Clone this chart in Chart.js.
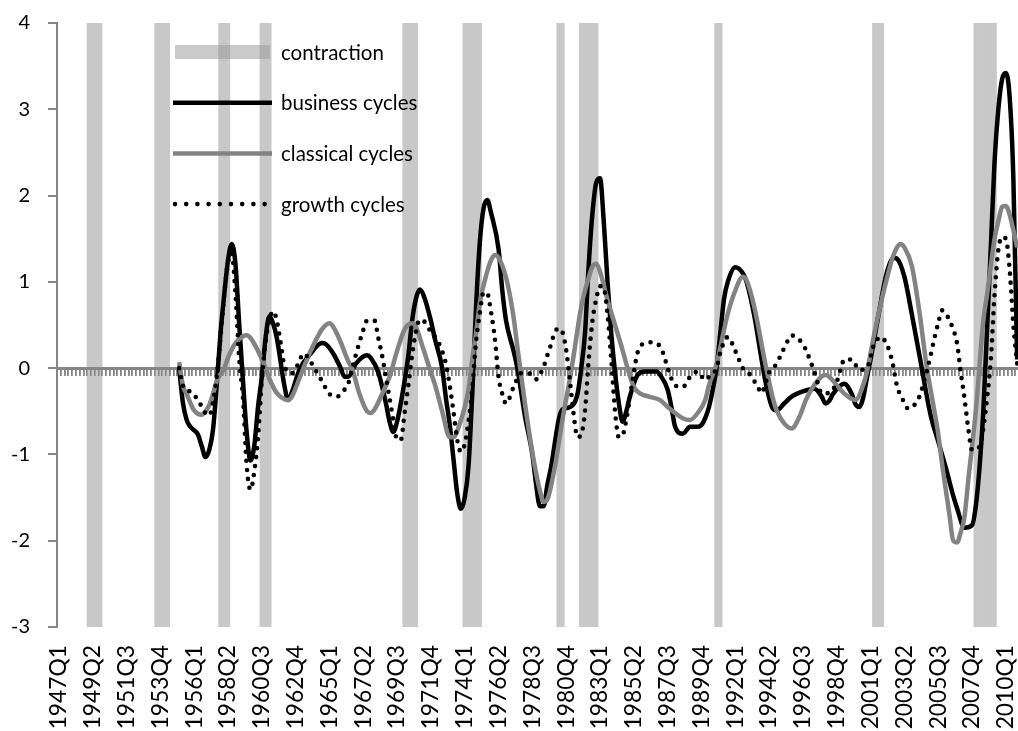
<!DOCTYPE html>
<html>
<head>
<meta charset="utf-8">
<script src="https://cdn.jsdelivr.net/npm/chart.js@4/dist/chart.umd.min.js"></script>
<style>
  html, body { margin: 0; padding: 0; background: #fff; overflow: hidden; }
  #wrap { position: relative; width: 1019px; height: 731px; }
</style>
</head>
<body>
<div id="wrap"><canvas id="cycles"></canvas></div>
<script>
// Quarterly category axis, 1947Q1 .. 2010Q4
const firstYear = 1947;
const lastYear = 2010;
const quarters = [];
for (let y = firstYear; y <= lastYear; y++) {
  for (let q = 1; q <= 4; q++) quarters.push(y + 'Q' + q);
}
// every 9th quarter carries a tick label
const labelStep = 9;

// NBER contraction periods (first and last quarter shaded)
const contractions = [
  ['1949Q1', '1949Q4'], ['1953Q3', '1954Q2'], ['1957Q4', '1958Q2'],
  ['1960Q3', '1961Q1'], ['1970Q1', '1970Q4'], ['1974Q1', '1975Q1'],
  ['1980Q2', '1980Q3'], ['1981Q4', '1982Q4'], ['1990Q4', '1991Q1'],
  ['2001Q2', '2001Q4'], ['2008Q1', '2009Q2']
];

// Business cycles
const businessCycles = [
  ['1955Q1',0.0],['1955Q2',-0.4],['1955Q3',-0.6],['1955Q4',-0.68],['1956Q2',-0.77],['1956Q3',-0.9],
  ['1956Q4',-1.03],['1957Q1',-0.95],['1957Q2',-0.72],['1957Q3',-0.2],['1957Q4',0.4],['1958Q1',0.85],
  ['1958Q2',1.25],['1958Q3',1.44],['1958Q4',1.2],['1959Q1',0.5],['1959Q2',-0.15],['1959Q3',-0.76],
  ['1959Q4',-1.07],['1960Q1',-0.9],['1960Q2',-0.45],['1960Q3',-0.1],['1960Q4',0.35],['1961Q1',0.6],
  ['1961Q2',0.52],['1961Q3',0.35],['1962Q1',-0.2],['1962Q2',-0.37],['1962Q3',-0.28],['1963Q1',-0.02],
  ['1963Q4',0.17],['1964Q3',0.29],['1964Q4',0.28],['1965Q2',0.17],['1965Q4',0.0],['1966Q1',-0.1],
  ['1966Q2',-0.1],['1966Q4',0.05],['1967Q3',0.15],['1967Q4',0.12],['1968Q2',-0.05],['1968Q4',-0.4],
  ['1969Q1',-0.62],['1969Q2',-0.74],['1969Q3',-0.62],['1970Q1',-0.15],['1970Q2',0.15],['1970Q3',0.55],
  ['1970Q4',0.8],['1971Q1',0.91],['1971Q2',0.85],['1971Q4',0.55],['1972Q1',0.35],['1972Q3',0.0],
  ['1972Q4',-0.35],['1973Q1',-0.65],['1973Q2',-1.05],['1973Q3',-1.45],['1973Q4',-1.63],['1974Q1',-1.5],
  ['1974Q2',-1.14],['1974Q3',-0.3],['1974Q4',0.7],['1975Q1',1.45],['1975Q2',1.85],['1975Q3',1.95],
  ['1975Q4',1.8],['1976Q2',1.38],['1976Q3',0.9],['1976Q4',0.55],['1977Q2',0.2],['1977Q3',0.0],
  ['1978Q1',-0.55],['1978Q3',-1.0],['1978Q4',-1.35],['1979Q1',-1.6],['1979Q2',-1.6],['1979Q3',-1.35],
  ['1979Q4',-1.14],['1980Q2',-0.6],['1980Q3',-0.48],['1981Q1',-0.45],['1981Q3',-0.3],['1981Q4',0.0],
  ['1982Q1',0.4],['1982Q2',1.2],['1982Q3',1.8],['1982Q4',2.15],['1983Q1',2.2],['1983Q2',1.7],
  ['1983Q3',1.0],['1983Q4',0.4],['1984Q1',-0.05],['1984Q2',-0.4],['1984Q3',-0.62],['1984Q4',-0.5],
  ['1985Q1',-0.32],['1985Q3',-0.08],['1986Q1',-0.04],['1986Q4',-0.04],['1987Q1',-0.08],['1987Q3',-0.25],
  ['1987Q4',-0.45],['1988Q1',-0.68],['1988Q3',-0.76],['1989Q1',-0.68],['1989Q3',-0.68],['1989Q4',-0.66],
  ['1990Q1',-0.58],['1990Q2',-0.45],['1990Q3',-0.25],['1990Q4',0.0],['1991Q1',0.4],['1991Q2',0.8],
  ['1991Q3',1.0],['1992Q1',1.17],['1992Q3',1.1],['1992Q4',1.0],['1993Q2',0.62],['1993Q4',0.1],
  ['1994Q1',-0.15],['1994Q3',-0.47],['1994Q4',-0.49],['1995Q2',-0.41],['1995Q4',-0.33],['1996Q3',-0.27],
  ['1997Q2',-0.24],['1997Q4',-0.33],['1998Q1',-0.41],['1998Q2',-0.38],['1998Q3',-0.3],['1999Q1',-0.2],
  ['1999Q2',-0.18],['1999Q4',-0.3],['2000Q1',-0.42],['2000Q2',-0.45],['2000Q3',-0.35],['2000Q4',-0.12],
  ['2001Q1',0.1],['2001Q3',0.59],['2002Q1',1.05],['2002Q2',1.2],['2002Q3',1.28],['2002Q4',1.27],
  ['2003Q2',1.06],['2003Q4',0.62],['2004Q2',0.15],['2005Q1',-0.55],['2005Q3',-0.85],['2006Q1',-1.15],
  ['2006Q3',-1.48],['2006Q4',-1.62],['2007Q2',-1.85],['2007Q4',-1.82],['2008Q1',-1.6],['2008Q2',-1.15],
  ['2008Q3',-0.5],['2008Q4',0.45],['2009Q1',1.4],['2009Q2',2.4],['2009Q3',3.0],['2009Q4',3.35],
  ['2010Q1',3.42],['2010Q2',3.15],['2010Q3',2.2],['2010Q4',0.1]
];

// Classical cycles
const classicalCycles = [
  ['1955Q1',0.07],['1955Q2',-0.2],['1955Q3',-0.3],['1956Q1',-0.49],['1956Q3',-0.54],['1956Q4',-0.5],
  ['1957Q1',-0.43],['1957Q2',-0.3],['1957Q3',-0.15],['1958Q1',0.0],['1958Q2',0.12],['1958Q4',0.29],
  ['1959Q2',0.37],['1959Q3',0.38],['1959Q4',0.35],['1960Q2',0.2],['1960Q4',0.0],['1961Q1',-0.12],
  ['1961Q3',-0.29],['1962Q1',-0.36],['1962Q2',-0.37],['1962Q3',-0.33],['1963Q1',-0.12],['1963Q3',0.1],
  ['1964Q1',0.29],['1964Q3',0.45],['1965Q1',0.52],['1965Q2',0.48],['1965Q4',0.3],['1966Q2',0.08],
  ['1966Q3',0.0],['1967Q1',-0.3],['1967Q3',-0.5],['1967Q4',-0.52],['1968Q1',-0.48],['1968Q3',-0.3],
  ['1969Q1',-0.1],['1969Q3',0.2],['1970Q1',0.45],['1970Q3',0.52],['1970Q4',0.48],['1971Q2',0.22],
  ['1971Q4',-0.05],['1972Q1',-0.18],['1972Q3',-0.5],['1973Q1',-0.8],['1973Q2',-0.8],['1973Q4',-0.6],
  ['1974Q1',-0.45],['1974Q2',-0.25],['1974Q3',0.1],['1974Q4',0.4],['1975Q1',0.75],['1975Q3',1.12],
  ['1975Q4',1.25],['1976Q1',1.31],['1976Q2',1.28],['1976Q4',1.05],['1977Q1',0.85],['1977Q2',0.59],
  ['1977Q3',0.25],['1978Q1',-0.4],['1978Q3',-0.98],['1979Q1',-1.42],['1979Q2',-1.55],['1979Q3',-1.52],
  ['1980Q1',-1.14],['1980Q3',-0.6],['1981Q1',-0.12],['1981Q2',0.15],['1981Q4',0.71],['1982Q2',1.05],
  ['1982Q3',1.18],['1982Q4',1.21],['1983Q1',1.12],['1983Q3',0.79],['1984Q1',0.5],['1984Q3',0.21],
  ['1984Q4',0.05],['1985Q2',-0.22],['1985Q4',-0.3],['1986Q2',-0.33],['1987Q1',-0.37],['1987Q3',-0.45],
  ['1988Q1',-0.52],['1988Q3',-0.58],['1989Q1',-0.6],['1989Q3',-0.52],['1990Q1',-0.37],['1990Q2',-0.2],
  ['1990Q4',0.05],['1991Q3',0.63],['1992Q1',0.9],['1992Q3',1.06],['1992Q4',1.02],['1993Q2',0.72],
  ['1994Q1',0.05],['1994Q3',-0.35],['1994Q4',-0.49],['1995Q2',-0.64],['1995Q4',-0.7],['1996Q2',-0.57],
  ['1996Q4',-0.35],['1997Q3',-0.14],['1998Q1',-0.08],['1998Q2',-0.1],['1999Q1',-0.25],['1999Q3',-0.33],
  ['2000Q1',-0.37],['2000Q3',-0.2],['2000Q4',-0.05],['2001Q2',0.4],['2001Q4',0.8],['2002Q2',1.15],
  ['2002Q3',1.3],['2003Q1',1.44],['2003Q2',1.4],['2003Q4',1.18],['2004Q2',0.65],['2004Q4',0.0],
  ['2005Q2',-0.5],['2005Q3',-0.76],['2005Q4',-1.1],['2006Q2',-1.7],['2006Q3',-2.0],['2006Q4',-2.02],
  ['2007Q1',-1.9],['2007Q2',-1.72],['2007Q3',-1.3],['2008Q1',-0.5],['2008Q3',0.55],['2008Q4',0.85],
  ['2009Q2',1.5],['2009Q3',1.7],['2009Q4',1.87],['2010Q1',1.88],['2010Q2',1.78],['2010Q3',1.6],
  ['2010Q4',1.4]
];

// Growth cycles
const growthCycles = [
  ['1955Q1',0.0],['1955Q2',-0.2],['1955Q3',-0.26],['1955Q4',-0.27],['1956Q2',-0.37],['1956Q4',-0.52],
  ['1957Q1',-0.55],['1957Q2',-0.4],['1957Q3',-0.1],['1957Q4',0.35],['1958Q1',0.85],['1958Q2',1.22],
  ['1958Q3',1.33],['1958Q4',0.85],['1959Q1',0.1],['1959Q2',-0.35],['1959Q3',-1.14],['1959Q4',-1.41],
  ['1960Q1',-1.2],['1960Q2',-0.8],['1960Q3',-0.15],['1960Q4',0.3],['1961Q1',0.55],['1961Q2',0.66],
  ['1961Q3',0.55],['1961Q4',0.3],['1962Q1',0.03],['1962Q3',-0.06],['1963Q1',0.08],['1963Q2',0.17],
  ['1963Q3',0.14],['1964Q1',0.0],['1964Q3',-0.15],['1965Q1',-0.3],['1965Q3',-0.33],['1966Q1',-0.25],
  ['1966Q2',-0.18],['1966Q4',0.15],['1967Q2',0.44],['1967Q3',0.55],['1968Q1',0.55],['1968Q2',0.35],
  ['1968Q3',0.15],['1968Q4',-0.1],['1969Q1',-0.35],['1969Q2',-0.6],['1969Q3',-0.83],['1969Q4',-0.83],
  ['1970Q1',-0.52],['1970Q2',-0.2],['1970Q3',0.15],['1970Q4',0.42],['1971Q1',0.56],['1971Q2',0.55],
  ['1971Q4',0.42],['1972Q2',0.3],['1972Q4',0.05],['1973Q1',-0.2],['1973Q2',-0.5],['1973Q3',-0.83],
  ['1973Q4',-0.97],['1974Q1',-0.88],['1974Q2',-0.62],['1974Q3',-0.25],['1974Q4',0.3],['1975Q1',0.63],
  ['1975Q2',0.88],['1975Q3',0.87],['1975Q4',0.65],['1976Q1',0.35],['1976Q2',-0.1],['1976Q3',-0.3],
  ['1976Q4',-0.41],['1977Q2',-0.22],['1977Q4',-0.06],['1978Q2',-0.06],['1978Q4',-0.13],['1979Q2',0.02],
  ['1979Q3',0.15],['1979Q4',0.28],['1980Q1',0.42],['1980Q2',0.46],['1980Q3',0.42],['1980Q4',0.21],
  ['1981Q1',-0.15],['1981Q2',-0.54],['1981Q3',-0.8],['1981Q4',-0.77],['1982Q1',-0.5],['1982Q2',0.1],
  ['1982Q3',0.55],['1982Q4',0.8],['1983Q1',0.95],['1983Q2',0.93],['1983Q3',0.62],['1983Q4',0.1],
  ['1984Q1',-0.5],['1984Q2',-0.8],['1984Q3',-0.78],['1984Q4',-0.6],['1985Q1',-0.33],['1985Q2',-0.05],
  ['1985Q3',0.18],['1986Q1',0.29],['1986Q3',0.3],['1987Q1',0.25],['1987Q2',0.15],['1987Q3',0.0],
  ['1987Q4',-0.12],['1988Q1',-0.2],['1988Q3',-0.22],['1989Q1',-0.1],['1989Q3',-0.04],['1990Q1',-0.14],
  ['1990Q2',-0.1],['1990Q4',0.0],['1991Q1',0.18],['1991Q3',0.36],['1992Q1',0.2],['1992Q3',0.0],
  ['1993Q1',-0.08],['1993Q3',-0.22],['1993Q4',-0.29],['1994Q1',-0.18],['1994Q2',-0.05],['1994Q4',0.05],
  ['1995Q1',0.14],['1995Q3',0.32],['1995Q4',0.38],['1996Q1',0.36],['1996Q3',0.28],['1996Q4',0.19],
  ['1997Q2',-0.04],['1997Q3',-0.18],['1997Q4',-0.29],['1998Q2',-0.29],['1998Q4',-0.16],['1999Q1',-0.02],
  ['1999Q2',0.1],['1999Q4',0.1],['2000Q2',-0.02],['2000Q4',0.0],['2001Q2',0.28],['2001Q4',0.36],
  ['2002Q1',0.3],['2002Q2',0.2],['2002Q3',0.03],['2002Q4',-0.2],['2003Q2',-0.4],['2003Q3',-0.47],
  ['2004Q1',-0.41],['2004Q2',-0.33],['2004Q4',-0.03],['2005Q1',0.15],['2005Q2',0.35],['2005Q3',0.52],
  ['2005Q4',0.67],['2006Q1',0.64],['2006Q2',0.55],['2006Q3',0.45],['2006Q4',0.29],['2007Q1',-0.05],
  ['2007Q2',-0.35],['2007Q3',-0.7],['2007Q4',-0.95],['2008Q2',-0.91],['2008Q3',-0.7],['2008Q4',-0.35],
  ['2009Q1',0.1],['2009Q2',0.85],['2009Q3',1.37],['2009Q4',1.52],['2010Q1',1.5],['2010Q2',1.15],
  ['2010Q3',0.5],['2010Q4',0.05]
];

// value axis range, also used as the extent of the contraction shading
const yMin = -3;
const yMax = 4;

const shaded = new Set();
contractions.forEach(([from, to]) => {
  for (let i = quarters.indexOf(from); i <= quarters.indexOf(to); i++) shaded.add(i);
});
const contractionData = quarters.map((q, i) => (shaded.has(i) ? [yMin, yMax] : null));
const toPoints = (rows) => rows.map(([q, v]) => ({ x: q, y: v }));

const FONT = 'Lato, "Open Sans", sans-serif';
const AXIS_GREY = '#868686';

// redraws the zero axis right after the shading so it sits between the bars and the lines
const zeroAxisOverShading = {
  id: 'zeroAxisOverShading',
  afterDatasetDraw(chart, args) {
    if (args.meta.type !== 'bar') return;
    const s = chart.scales.zero;
    s.drawGrid(chart.chartArea);
    s.drawBorder();
  }
};

// legend drawn inside the plot area, one row per dataset
const insetLegend = {
  id: 'insetLegend',
  afterDraw(chart) {
    const { ctx, chartArea } = chart;
    const x0 = chartArea.left + 116;
    const x1 = chartArea.left + 215;
    const textX = chartArea.left + 224;
    ctx.save();
    ctx.font = '20.5px ' + FONT;
    ctx.textBaseline = 'middle';
    ctx.textAlign = 'left';
    chart.data.datasets.forEach((ds, i) => {
      const y = chartArea.top + 29 + i * 50.7;
      const dotted = Array.isArray(ds.borderDash) && ds.borderDash.length > 0;
      if (ds.type === 'bar') {
        ctx.fillStyle = 'rgba(150,150,150,0.5)';
        ctx.fillRect(x0 + 2, y - 7, x1 - x0 - 4, 14);
      } else {
        ctx.beginPath();
        ctx.strokeStyle = ds.borderColor;
        ctx.lineWidth = ds.borderWidth;
        ctx.lineCap = dotted ? 'round' : 'butt';
        ctx.setLineDash(dotted ? [0, 11.2] : []);
        ctx.moveTo(dotted ? x0 + 2 : x0, y);
        ctx.lineTo(x1, y);
        ctx.stroke();
        ctx.setLineDash([]);
      }
      ctx.fillStyle = '#000';
      ctx.fillText(ds.label, textX, y + 1);
    });
    ctx.restore();
  }
};

new Chart(document.getElementById('cycles'), {
  type: 'bar',
  data: {
    labels: quarters,
    datasets: [
      {
        type: 'bar', label: 'contraction', data: contractionData,
        backgroundColor: '#c8c8c8', borderWidth: 0,
        barPercentage: 1, categoryPercentage: 1, order: 4
      },
      {
        type: 'line', label: 'business cycles', data: toPoints(businessCycles),
        borderColor: '#000', borderWidth: 4.5, pointRadius: 0,
        cubicInterpolationMode: 'monotone', borderJoinStyle: 'round', order: 3
      },
      {
        type: 'line', label: 'classical cycles', data: toPoints(classicalCycles),
        borderColor: '#838383', borderWidth: 4.5, pointRadius: 0,
        cubicInterpolationMode: 'monotone', borderJoinStyle: 'round', order: 2
      },
      {
        type: 'line', label: 'growth cycles', data: toPoints(growthCycles),
        borderColor: '#000', borderWidth: 4.6, pointRadius: 0,
        borderDash: [0, 9], borderCapStyle: 'round',
        cubicInterpolationMode: 'monotone', order: 1
      }
    ]
  },
  options: {
    responsive: true,
    maintainAspectRatio: false,
    animation: false,
    layout: { padding: { top: 23, right: 0, bottom: 0, left: 0 } },
    plugins: { legend: { display: false }, tooltip: { enabled: false } },
    scales: {
      x: {
        type: 'category',
        offset: true,
        grid: { display: false, drawTicks: false },
        border: { display: false },
        ticks: {
          autoSkip: false, minRotation: 90, maxRotation: 90, padding: 18,
          color: '#000', font: { family: FONT, size: 22.8 },
          callback: (v, i) => (i % labelStep === 0 ? quarters[i] : null)
        },
        afterFit: (s) => { s.height = 104; s.paddingLeft = 0; s.paddingRight = 0; }
      },
      zero: {
        type: 'category',
        axis: 'x',
        position: { y: 0 },
        offset: true,
        grid: {
          display: true, drawOnChartArea: false, drawTicks: true, tickLength: 6,
          offset: true, color: AXIS_GREY, lineWidth: 1.6
        },
        border: { display: true, color: AXIS_GREY, width: 3 },
        ticks: { display: false },
        afterFit: (s) => { s.height = 0; s.paddingLeft = 0; s.paddingRight = 0; }
      },
      y: {
        type: 'linear',
        min: yMin, max: yMax,
        grid: { drawOnChartArea: false, drawTicks: true, tickLength: 9, color: AXIS_GREY, lineWidth: 2 },
        border: { display: true, color: AXIS_GREY, width: 2 },
        ticks: { stepSize: 1, padding: 18, color: '#000', font: { family: FONT, size: 20 } },
        afterFit: (s) => { s.width = 57; s.paddingTop = 0; s.paddingBottom = 0; }
      }
    }
  },
  plugins: [zeroAxisOverShading, insetLegend]
});
</script>
</body>
</html>
